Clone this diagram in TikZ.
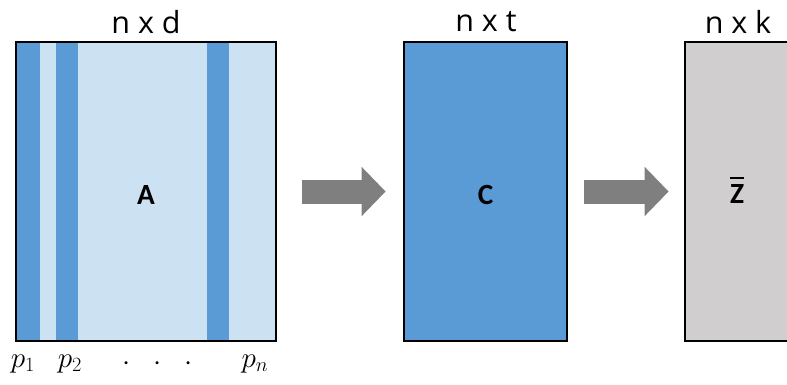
\documentclass[tikz,border=0pt]{standalone}
\usepackage{fontspec}
\setmainfont{Carlito}
\newfontfamily\dimfont{Open Sans}
\usetikzlibrary{arrows.meta,positioning}
\definecolor{lightblue}{HTML}{CCE1F2}
\definecolor{midblue}{HTML}{5B9BD5}
\definecolor{boxgray}{HTML}{D0CECE}
\definecolor{arrowgray}{HTML}{7F7F7F}
\newcommand{\barZ}{\vbox{\hrule height 1.6pt\kern 5pt\hbox{Z}}}
\tikzset{
  matbox/.style={draw=black,line width=2.4pt,minimum width=#1,minimum height=8.97cm,inner sep=0pt,
    font=\fontsize{25}{28}\selectfont\bfseries},
  stripe/.style={fill=midblue,draw=none,minimum width=0.66cm,minimum height=8.88cm,inner sep=0pt},
  dimlabel/.style={font=\dimfont\fontsize{26}{30}\selectfont},
  hand/.style={font=\fontsize{25}{28}\selectfont},
  bigarrow/.style={draw=arrowgray,line width=0.72cm,-{Triangle[length=0.72cm,width=1.44cm]}}
}
\begin{document}
\begin{tikzpicture}[x=0.03cm,y=-0.03cm]
\useasboundingbox (0,0) rectangle (787,384);
% matrices
\node[matbox=7.8cm,fill=lightblue] (A) at (146,191.5) {};
\node[stripe] (s1) at (28.5,191.5) {};
\node[stripe] (s2) at (67,191.5) {};
\node[stripe] (sn) at (217.5,191.5) {};
\node[font=\fontsize{25}{28}\selectfont\bfseries] (Alab) at (146,195) {A};
\node[matbox=4.89cm,fill=midblue] (C) at (485.5,191.5) {};
\node[font=\fontsize{25}{28}\selectfont\bfseries] (Clab) at (485.5,195) {C};
\node[matbox=3.21cm,fill=boxgray] (Z) at (738.5,191.5) {};
\node[font=\fontsize{25}{28}\selectfont\bfseries] (Zlab) at (737,190) {\barZ};
% sizes
\node[dimlabel] (dA) at (146,22) {n x d};
\node[dimlabel] (dC) at (486,22) {n x t};
\node[dimlabel] (dZ) at (738,22) {n x k};
% columns
\node[hand] (p1) at (23,364) {$p_1$};
\node[hand] (p2) at (70,364) {$p_2$};
\node[hand] (pd) at (158,364) {$\cdot\hspace{14pt}\cdot\hspace{14pt}\cdot$};
\node[hand] (pn) at (255,364) {$p_n$};
% arrows
\draw[bigarrow,shorten <=0.75cm,shorten >=0.51cm] (A) -- (C);
\draw[bigarrow,shorten <=0.48cm,shorten >=0.45cm] (C) -- (Z);
\end{tikzpicture}
\end{document}
